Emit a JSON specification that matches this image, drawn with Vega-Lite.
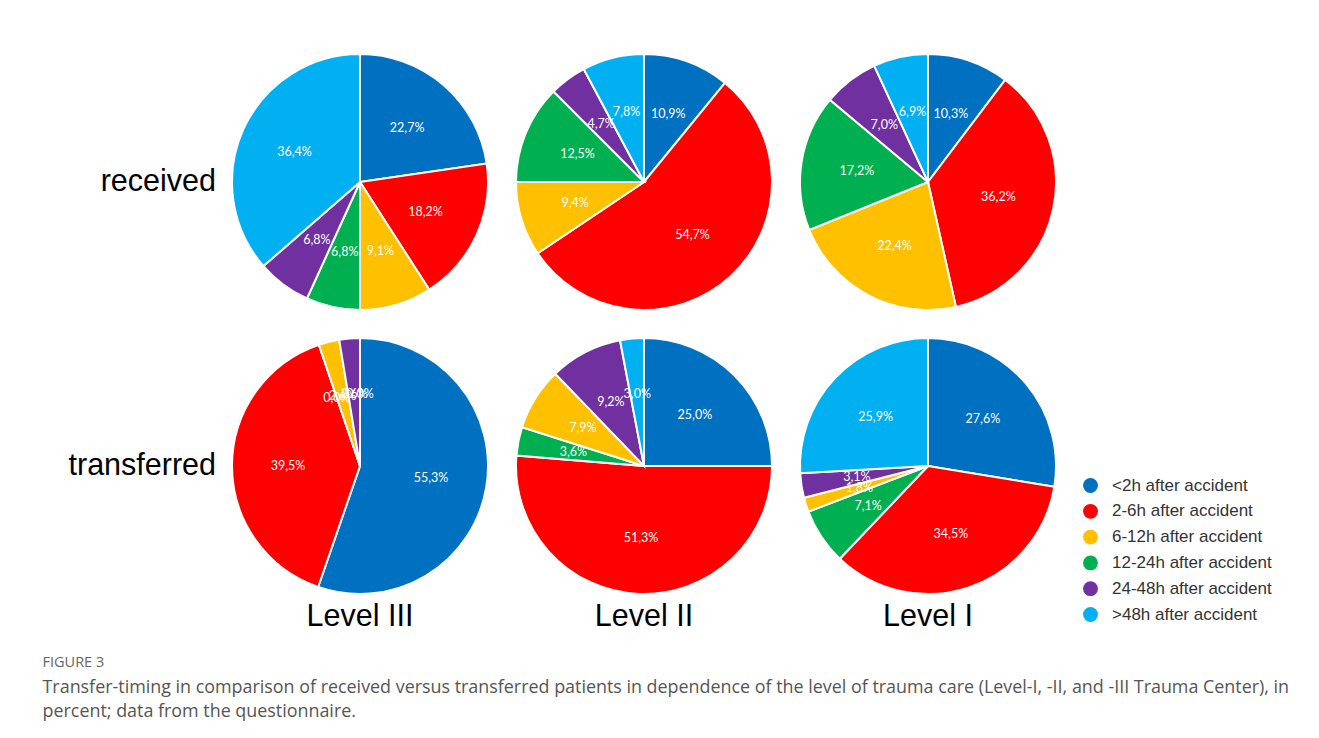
{
  "$schema": "https://vega.github.io/schema/vega-lite/v6.json",
  "padding": {"left": 42, "top": 40, "right": 5, "bottom": 5},
  "background": "white",
  "data": {"values": [
    {"type": "received", "level": "Level III", "cat": "<2h after accident", "idx": 1, "value": 22.7},
    {"type": "received", "level": "Level III", "cat": "2-6h after accident", "idx": 2, "value": 18.2},
    {"type": "received", "level": "Level III", "cat": "6-12h after accident", "idx": 3, "value": 9.1},
    {"type": "received", "level": "Level III", "cat": "12-24h after accident", "idx": 4, "value": 6.8},
    {"type": "received", "level": "Level III", "cat": "24-48h after accident", "idx": 5, "value": 6.8},
    {"type": "received", "level": "Level III", "cat": ">48h after accident", "idx": 6, "value": 36.4},
    {"type": "received", "level": "Level II", "cat": "<2h after accident", "idx": 1, "value": 10.9},
    {"type": "received", "level": "Level II", "cat": "2-6h after accident", "idx": 2, "value": 54.7},
    {"type": "received", "level": "Level II", "cat": "6-12h after accident", "idx": 3, "value": 9.4},
    {"type": "received", "level": "Level II", "cat": "12-24h after accident", "idx": 4, "value": 12.5},
    {"type": "received", "level": "Level II", "cat": "24-48h after accident", "idx": 5, "value": 4.7},
    {"type": "received", "level": "Level II", "cat": ">48h after accident", "idx": 6, "value": 7.8},
    {"type": "received", "level": "Level I", "cat": "<2h after accident", "idx": 1, "value": 10.3},
    {"type": "received", "level": "Level I", "cat": "2-6h after accident", "idx": 2, "value": 36.2},
    {"type": "received", "level": "Level I", "cat": "6-12h after accident", "idx": 3, "value": 22.4},
    {"type": "received", "level": "Level I", "cat": "12-24h after accident", "idx": 4, "value": 17.2},
    {"type": "received", "level": "Level I", "cat": "24-48h after accident", "idx": 5, "value": 7.0},
    {"type": "received", "level": "Level I", "cat": ">48h after accident", "idx": 6, "value": 6.9},
    {"type": "transferred", "level": "Level III", "cat": "<2h after accident", "idx": 1, "value": 55.3},
    {"type": "transferred", "level": "Level III", "cat": "2-6h after accident", "idx": 2, "value": 39.5},
    {"type": "transferred", "level": "Level III", "cat": "12-24h after accident", "idx": 3, "value": 0.0},
    {"type": "transferred", "level": "Level III", "cat": "6-12h after accident", "idx": 4, "value": 2.6},
    {"type": "transferred", "level": "Level III", "cat": "24-48h after accident", "idx": 5, "value": 2.6},
    {"type": "transferred", "level": "Level III", "cat": ">48h after accident", "idx": 6, "value": 0.0},
    {"type": "transferred", "level": "Level II", "cat": "<2h after accident", "idx": 1, "value": 25.0},
    {"type": "transferred", "level": "Level II", "cat": "2-6h after accident", "idx": 2, "value": 51.3},
    {"type": "transferred", "level": "Level II", "cat": "12-24h after accident", "idx": 3, "value": 3.6},
    {"type": "transferred", "level": "Level II", "cat": "6-12h after accident", "idx": 4, "value": 7.9},
    {"type": "transferred", "level": "Level II", "cat": "24-48h after accident", "idx": 5, "value": 9.2},
    {"type": "transferred", "level": "Level II", "cat": ">48h after accident", "idx": 6, "value": 3.0},
    {"type": "transferred", "level": "Level I", "cat": "<2h after accident", "idx": 1, "value": 27.6},
    {"type": "transferred", "level": "Level I", "cat": "2-6h after accident", "idx": 2, "value": 34.5},
    {"type": "transferred", "level": "Level I", "cat": "12-24h after accident", "idx": 3, "value": 7.1},
    {"type": "transferred", "level": "Level I", "cat": "6-12h after accident", "idx": 4, "value": 1.8},
    {"type": "transferred", "level": "Level I", "cat": "24-48h after accident", "idx": 5, "value": 3.1},
    {"type": "transferred", "level": "Level I", "cat": ">48h after accident", "idx": 6, "value": 25.9}
  ]},
  "title": {
    "text": "FIGURE 3",
    "subtitle": ["Transfer-timing in comparison of received versus transferred patients in dependence of the level of trauma care (Level-I, -II, and -III Trauma Center), in", "percent; data from the questionnaire."],
    "orient": "bottom",
    "anchor": "start",
    "offset": 23,
    "dx": -26,
    "font": "Open Sans",
    "fontSize": 14.5,
    "fontWeight": "normal",
    "color": "#666666",
    "subtitleFont": "Open Sans",
    "subtitleFontSize": 17.9,
    "subtitleColor": "#555555",
    "subtitleLineHeight": 24,
    "subtitlePadding": 9
  },
  "facet": {
    "row": {"field": "type", "type": "nominal", "sort": ["received", "transferred"], "title": null,
      "header": {"labelOrient": "left", "labelAngle": 0, "labelAlign": "left", "labelFontSize": 30.5, "labelFont": "Liberation Sans", "labelColor": "#000000", "labelPadding": 2}},
    "column": {"field": "level", "type": "nominal", "sort": ["Level III", "Level II", "Level I"], "title": null,
      "header": {"labelOrient": "bottom", "labelFontSize": 30.5, "labelFont": "Liberation Sans", "labelColor": "#000000", "labelPadding": -6, "labelBaseline": "top"}}
  },
  "spacing": 0,
  "spec": {
    "width": 284,
    "height": 284,
    "view": {"stroke": null},
    "encoding": {
      "theta": {"field": "value", "type": "quantitative", "stack": true},
      "order": {"field": "idx", "type": "quantitative"}
    },
    "layer": [
      {
        "mark": {"type": "arc", "outerRadius": 128, "stroke": "white", "strokeWidth": 2},
        "encoding": {
          "color": {"field": "cat", "type": "nominal",
            "scale": {"domain": ["<2h after accident", "2-6h after accident", "6-12h after accident", "12-24h after accident", "24-48h after accident", ">48h after accident"],
              "range": ["#0070C0", "#FF0000", "#FFC000", "#00B050", "#7030A0", "#00B0F0"]},
            "legend": {"title": null, "orient": "none", "legendX": 864, "legendY": 437, "padding": 0, "symbolType": "circle", "symbolSize": 220, "symbolStrokeWidth": 0, "symbolOpacity": 1,
              "labelFont": "Liberation Sans", "labelFontSize": 17, "labelColor": "#333333", "rowPadding": 7.8, "labelOffset": 13}
          }
        }
      },
      {
        "mark": {"type": "text", "radius": 72, "fill": "white", "fontSize": 12.5, "font": "Lato"},
        "encoding": {
          "detail": {"field": "cat", "type": "nominal"},
          "text": {"field": "value", "type": "quantitative", "format": "$.1f"}
        }
      }
    ]
  },
  "config": {
    "locale": {"number": {"decimal": ",", "thousands": ".", "grouping": [3], "currency": ["", "%"]}}
  }
}
